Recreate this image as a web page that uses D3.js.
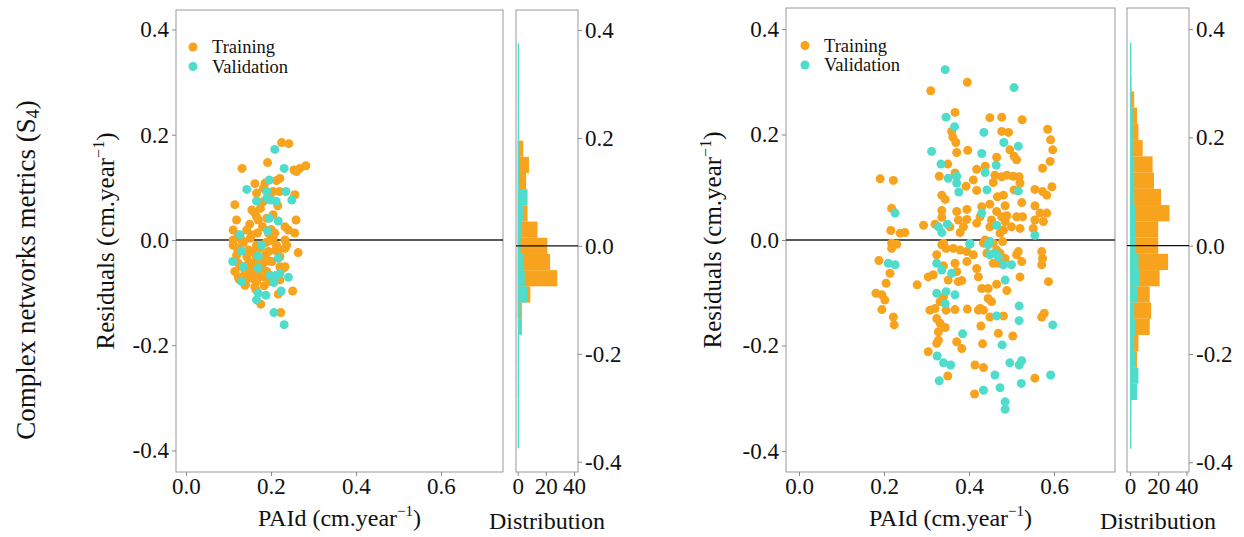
<!DOCTYPE html>
<html><head><meta charset="utf-8">
<script src="https://cdn.jsdelivr.net/npm/d3@7"></script>
<style>
body{margin:0;background:#fff}
svg{display:block}
text{font-family:"Liberation Serif","Times New Roman",serif;fill:#111}
</style>
</head><body><svg id="c" width="1244" height="537"></svg>
<script>
// ---------- data ----------
const seriesNames = ["Training", "Validation"];
const xTicks = [0, 0.2, 0.4, 0.6];
const yTicks = [-0.4, -0.2, 0, 0.2, 0.4];
const histTicks = [0, 20, 40];
const outerTitle = "Complex networks metrics (S";
const outerTitleSub = "4";

const leftTraining = [
[0.225,0.185],[0.242,0.183],[0.192,0.147],[0.132,0.136],[0.254,0.133],[0.268,0.136],[0.282,0.141],[0.260,0.130],[0.221,0.117],[0.213,0.113],[0.162,0.107],[0.186,0.108],[0.166,0.089],[0.182,0.098],[0.205,0.092],[0.220,0.092],[0.256,0.086],[0.198,0.086],[0.182,0.073],[0.216,0.065],[0.115,0.067],[0.155,0.057],[0.162,0.051],[0.166,0.044],[0.119,0.038],[0.170,0.038],[0.190,0.041],[0.205,0.048],[0.233,0.025],[0.259,0.038],[0.241,0.019],[0.256,0.013],[0.111,0.019],[0.143,0.019],[0.123,0.010],[0.168,0.013],[0.194,0.013],[0.209,0.013],[0.205,0.003],[0.111,0.000],[0.131,0.000],[0.151,0.003],[0.198,-0.001],[0.233,0.000],[0.237,-0.010],[0.111,-0.010],[0.166,-0.010],[0.213,-0.010],[0.233,-0.016],[0.264,-0.024],[0.147,-0.019],[0.158,-0.022],[0.194,-0.022],[0.217,-0.019],[0.119,-0.029],[0.143,-0.032],[0.166,-0.032],[0.186,-0.029],[0.221,-0.032],[0.123,-0.044],[0.147,-0.044],[0.162,-0.041],[0.182,-0.044],[0.202,-0.041],[0.221,-0.051],[0.233,-0.051],[0.229,-0.054],[0.115,-0.060],[0.139,-0.060],[0.155,-0.057],[0.166,-0.060],[0.178,-0.054],[0.190,-0.060],[0.123,-0.070],[0.143,-0.070],[0.155,-0.073],[0.174,-0.070],[0.166,-0.079],[0.139,-0.086],[0.162,-0.089],[0.184,-0.087],[0.198,-0.079],[0.221,-0.076],[0.251,-0.097],[0.217,-0.103],[0.176,-0.122],[0.223,-0.138],
[0.150,-0.050],[0.160,-0.065],[0.170,-0.045],[0.145,-0.025],[0.175,-0.015],[0.135,-0.005],[0.125,-0.075],[0.185,-0.070],[0.195,-0.040],[0.155,0.010],[0.180,0.025],[0.140,-0.085],[0.165,-0.095],[0.120,-0.015],[0.210,-0.020],[0.200,0.020],[0.175,0.060],[0.150,0.030],[0.130,-0.050],[0.188,-0.005]
];
const leftValidation = [
[0.209,0.172],[0.231,0.136],[0.196,0.114],[0.143,0.096],[0.190,0.092],[0.235,0.092],[0.249,0.076],[0.166,0.074],[0.190,0.079],[0.198,0.076],[0.212,0.073],[0.196,0.041],[0.217,0.036],[0.127,0.010],[0.192,0.017],[0.178,-0.010],[0.131,-0.021],[0.170,-0.031],[0.217,-0.035],[0.110,-0.041],[0.135,-0.051],[0.170,-0.054],[0.198,-0.067],[0.213,-0.067],[0.221,-0.064],[0.241,-0.071],[0.131,-0.079],[0.207,-0.081],[0.224,-0.097],[0.170,-0.101],[0.188,-0.105],[0.166,-0.114],[0.207,-0.138],[0.231,-0.161]
];

const rightTraining = [
[0.396,0.299],[0.310,0.283],[0.367,0.242],[0.449,0.232],[0.477,0.233],[0.525,0.228],[0.359,0.206],[0.362,0.195],[0.369,0.185],[0.477,0.206],[0.493,0.204],[0.585,0.210],[0.592,0.190],[0.496,0.171],[0.597,0.171],[0.371,0.166],[0.397,0.170],[0.465,0.157],[0.506,0.159],[0.512,0.152],[0.591,0.149],[0.350,0.144],[0.418,0.134],[0.438,0.140],[0.573,0.136],[0.330,0.121],[0.367,0.127],[0.410,0.114],[0.461,0.123],[0.477,0.120],[0.489,0.123],[0.504,0.121],[0.518,0.120],[0.191,0.116],[0.222,0.113],[0.393,0.102],[0.336,0.085],[0.344,0.077],[0.418,0.094],[0.457,0.109],[0.467,0.082],[0.481,0.085],[0.506,0.095],[0.520,0.108],[0.555,0.096],[0.573,0.092],[0.595,0.101],[0.583,0.085],[0.218,0.060],[0.336,0.056],[0.371,0.054],[0.395,0.058],[0.430,0.063],[0.449,0.068],[0.465,0.054],[0.485,0.065],[0.524,0.071],[0.555,0.065],[0.583,0.051],[0.567,0.051],[0.336,0.043],[0.375,0.038],[0.395,0.039],[0.426,0.044],[0.453,0.038],[0.477,0.044],[0.489,0.046],[0.512,0.044],[0.526,0.044],[0.555,0.038],[0.575,0.035],[0.293,0.028],[0.320,0.030],[0.355,0.025],[0.387,0.025],[0.418,0.032],[0.449,0.025],[0.485,0.035],[0.500,0.025],[0.520,0.022],[0.551,0.022],[0.216,0.018],[0.238,0.013],[0.249,0.014],[0.379,0.014],[0.473,0.013],[0.481,0.019],[0.218,-0.006],[0.230,-0.008],[0.340,-0.006],[0.438,0.000],[0.457,-0.006],[0.479,-0.003],
[0.222,-0.009],[0.218,-0.016],[0.336,-0.009],[0.346,-0.016],[0.363,-0.016],[0.379,-0.019],[0.395,-0.022],[0.410,-0.028],[0.434,-0.006],[0.442,-0.025],[0.465,-0.019],[0.473,-0.025],[0.485,-0.035],[0.457,-0.044],[0.469,-0.044],[0.512,-0.028],[0.516,-0.022],[0.524,-0.041],[0.571,-0.022],[0.573,-0.035],[0.571,-0.047],[0.324,-0.028],[0.340,-0.049],[0.367,-0.044],[0.395,-0.041],[0.418,-0.054],[0.422,-0.070],[0.351,-0.076],[0.375,-0.079],[0.383,-0.077],[0.371,-0.060],[0.316,-0.066],[0.304,-0.070],[0.278,-0.085],[0.214,-0.063],[0.188,-0.039],[0.205,-0.082],[0.181,-0.101],[0.195,-0.104],[0.202,-0.114],[0.195,-0.132],[0.222,-0.146],[0.224,-0.161],[0.465,-0.084],[0.489,-0.096],[0.520,-0.070],[0.587,-0.079],[0.340,-0.108],[0.332,-0.117],[0.430,-0.092],[0.445,-0.092],[0.445,-0.111],[0.453,-0.117],[0.396,-0.131],[0.426,-0.130],[0.434,-0.133],[0.422,-0.133],[0.308,-0.133],[0.320,-0.130],[0.346,-0.133],[0.367,-0.132],[0.324,-0.149],[0.332,-0.158],[0.344,-0.166],[0.328,-0.174],[0.324,-0.196],[0.328,-0.190],[0.304,-0.212],[0.371,-0.193],[0.383,-0.206],[0.428,-0.163],[0.449,-0.146],[0.481,-0.144],[0.469,-0.177],[0.503,-0.182],[0.571,-0.146],[0.577,-0.139],[0.432,-0.197],[0.414,-0.237],[0.434,-0.242],[0.350,-0.258],[0.555,-0.262],[0.413,-0.292]
];
const rightValidation = [
[0.344,0.323],[0.506,0.289],[0.346,0.233],[0.366,0.215],[0.435,0.204],[0.482,0.185],[0.516,0.178],[0.312,0.168],[0.430,0.164],[0.334,0.144],[0.464,0.142],[0.351,0.117],[0.371,0.121],[0.438,0.128],[0.371,0.108],[0.376,0.091],[0.442,0.095],[0.516,0.093],[0.226,0.051],[0.430,0.051],[0.328,0.025],[0.349,0.030],[0.465,0.028],[0.336,0.014],[0.555,0.009],[0.402,-0.006],[0.449,-0.003],
[0.402,-0.008],[0.445,-0.009],[0.449,-0.028],[0.461,-0.025],[0.469,-0.032],[0.324,-0.044],[0.336,-0.057],[0.359,-0.063],[0.210,-0.044],[0.226,-0.047],[0.485,-0.076],[0.481,-0.047],[0.500,-0.047],[0.324,-0.101],[0.346,-0.098],[0.344,-0.121],[0.367,-0.104],[0.385,-0.178],[0.465,-0.144],[0.518,-0.125],[0.518,-0.153],[0.597,-0.161],[0.478,-0.199],[0.325,-0.220],[0.340,-0.233],[0.357,-0.237],[0.496,-0.233],[0.518,-0.237],[0.524,-0.229],[0.461,-0.256],[0.330,-0.267],[0.473,-0.280],[0.523,-0.272],[0.592,-0.256],[0.434,-0.285],[0.485,-0.307],[0.485,-0.321]
];

// histogram bins (centres, width 0.03) and counts
const histBinCenters = [0.36,0.33,0.30,0.27,0.24,0.21,0.18,0.15,0.12,0.09,0.06,0.03,0.00,-0.03,-0.06,-0.09,-0.12,-0.15,-0.18,-0.21,-0.24,-0.27,-0.30,-0.33,-0.36];
const histBinWidth = 0.03;
const leftHistTraining   = [0,0,0,0,0,0,4,8,6,5,7,14,21,23,28,9,3,0,0,0,0,0,0,0,0];
const leftHistValidation = [1,1,1,1,1,1,1,1,1,7,4,3,2,4,5,7,2,3,1,1,1,1,1,1,1];
const rightHistTraining   = [0,0,1,3,5,6,9,16,17,22,28,20,20,27,21,14,15,14,6,5,3,2,0,0,0];
const rightHistValidation = [1,1,1,1,2,2,2,3,3,3,4,4,4,6,7,5,3,4,3,4,6,5,1,1,1];

// ---------- drawing ----------
const colors = ["#F8A31E", "#4FDCCB"];
const svg = d3.select("#c");
const fmt = d => d.toFixed(1);
const TICK_FS = 23;

const panels = [
  { training: leftTraining, validation: leftValidation, histT: leftHistTraining, histV: leftHistValidation,
    sx: [176, 503], sy: [10, 472], xDom: [-0.0235, 0.746], yDom: [-0.441, 0.437],
    hx: [516, 578], hy: [10, 472], hxDom: [-1.2, 42.8], hyDom: [-0.419, 0.437],
    yTitleX: 114, legend: [193, 47, 19.5] },
  { training: rightTraining, validation: rightValidation, histT: rightHistTraining, histV: rightHistValidation,
    sx: [786, 1115], sy: [8, 472], xDom: [-0.0306, 0.7435], yDom: [-0.440, 0.440],
    hx: [1127, 1189], hy: [8, 472], hxDom: [-2.1, 41.8], hyDom: [-0.418, 0.439],
    yTitleX: 721, legend: [805, 45.5, 19.5] }
];

function styleAxis(g) {
  g.select(".domain").remove();
  g.selectAll(".tick line").attr("stroke", "#888");
  g.selectAll(".tick text").attr("font-size", TICK_FS).attr("fill", "#111")
    .attr("font-family", '"Liberation Serif", serif');
}

panels.forEach(p => {
  const x = d3.scaleLinear().domain(p.xDom).range(p.sx);
  const y = d3.scaleLinear().domain(p.yDom).range([p.sy[1], p.sy[0]]);

  // scatter box
  svg.append("rect").attr("x", p.sx[0]).attr("y", p.sy[0])
    .attr("width", p.sx[1] - p.sx[0]).attr("height", p.sy[1] - p.sy[0])
    .attr("fill", "none").attr("stroke", "#999").attr("stroke-width", 1);

  svg.append("g").attr("transform", `translate(${p.sx[0]},0)`)
    .call(d3.axisLeft(y).tickValues(yTicks).tickFormat(fmt).tickSize(4).tickPadding(3))
    .call(styleAxis);
  svg.append("g").attr("transform", `translate(0,${p.sy[1]})`)
    .call(d3.axisBottom(x).tickValues(xTicks).tickFormat(fmt).tickSize(4).tickPadding(2))
    .call(styleAxis);

  // zero line
  svg.append("line").attr("x1", p.sx[0]).attr("x2", p.sx[1])
    .attr("y1", y(0)).attr("y2", y(0)).attr("stroke", "#222").attr("stroke-width", 1.4);

  // points
  [p.training, p.validation].forEach((arr, i) => {
    svg.append("g").selectAll("circle").data(arr).join("circle")
      .attr("cx", d => x(d[0])).attr("cy", d => y(d[1])).attr("r", 4.5)
      .attr("fill", colors[i]);
  });

  // legend
  const [lx, ly, ls] = p.legend;
  seriesNames.forEach((n, i) => {
    svg.append("circle").attr("cx", lx).attr("cy", ly + i * ls).attr("r", 4.5).attr("fill", colors[i]);
    svg.append("text").attr("x", lx + 19).attr("y", ly + i * ls).attr("dy", "0.33em")
      .attr("font-size", 18.5).text(n);
  });

  // y title
  const yt = svg.append("text").attr("transform", `translate(${p.yTitleX},${(p.sy[0] + p.sy[1]) / 2}) rotate(-90)`)
    .attr("text-anchor", "middle").attr("font-size", 25);
  yt.append("tspan").text("Residuals (cm.year");
  yt.append("tspan").attr("font-size", 16).attr("dy", -10).text("−1");
  yt.append("tspan").attr("dy", 10).text(")");

  // x title
  const xt = svg.append("text").attr("x", (p.sx[0] + p.sx[1]) / 2).attr("y", 526)
    .attr("text-anchor", "middle").attr("font-size", 24);
  xt.append("tspan").text("PAId (cm.year");
  xt.append("tspan").attr("font-size", 15).attr("dy", -10).text("−1");
  xt.append("tspan").attr("dy", 10).text(")");

  // histogram
  const hxs = d3.scaleLinear().domain(p.hxDom).range(p.hx);
  const hys = d3.scaleLinear().domain(p.hyDom).range([p.hy[1], p.hy[0]]);
  svg.append("rect").attr("x", p.hx[0]).attr("y", p.hy[0])
    .attr("width", p.hx[1] - p.hx[0]).attr("height", p.hy[1] - p.hy[0])
    .attr("fill", "none").attr("stroke", "#999").attr("stroke-width", 1);

  [p.histT, p.histV].forEach((counts, i) => {
    const bins = histBinCenters.map((c, k) => ({ c, n: counts[k] })).filter(b => b.n > 0);
    svg.append("g").selectAll("rect").data(bins).join("rect")
      .attr("x", hxs(0))
      .attr("y", b => hys(b.c + histBinWidth / 2))
      .attr("width", b => hxs(b.n) - hxs(0))
      .attr("height", b => hys(b.c - histBinWidth / 2) - hys(b.c + histBinWidth / 2))
      .attr("fill", colors[i]);
  });

  svg.append("line").attr("x1", p.hx[0]).attr("x2", p.hx[1])
    .attr("y1", hys(0)).attr("y2", hys(0)).attr("stroke", "#111").attr("stroke-width", 1.2);

  svg.append("g").attr("transform", `translate(${p.hx[1]},0)`)
    .call(d3.axisRight(hys).tickValues(yTicks).tickFormat(fmt).tickSize(4).tickPadding(3))
    .call(styleAxis);
  svg.append("g").attr("transform", `translate(0,${p.hy[1]})`)
    .call(d3.axisBottom(hxs).tickValues(histTicks).tickFormat(d3.format("d")).tickSize(4).tickPadding(2))
    .call(styleAxis);

  svg.append("text").attr("x", (p.hx[0] + p.hx[1]) / 2).attr("y", 529)
    .attr("text-anchor", "middle").attr("font-size", 24).text("Distribution");
});

// outer title
const ot = svg.append("text").attr("transform", "translate(35,270) rotate(-90)")
  .attr("text-anchor", "middle").attr("font-size", 27);
ot.append("tspan").text(outerTitle);
ot.append("tspan").attr("font-size", 18).attr("dy", 4).text(outerTitleSub);
ot.append("tspan").attr("dy", -4).text(")");
</script>
</body></html>
